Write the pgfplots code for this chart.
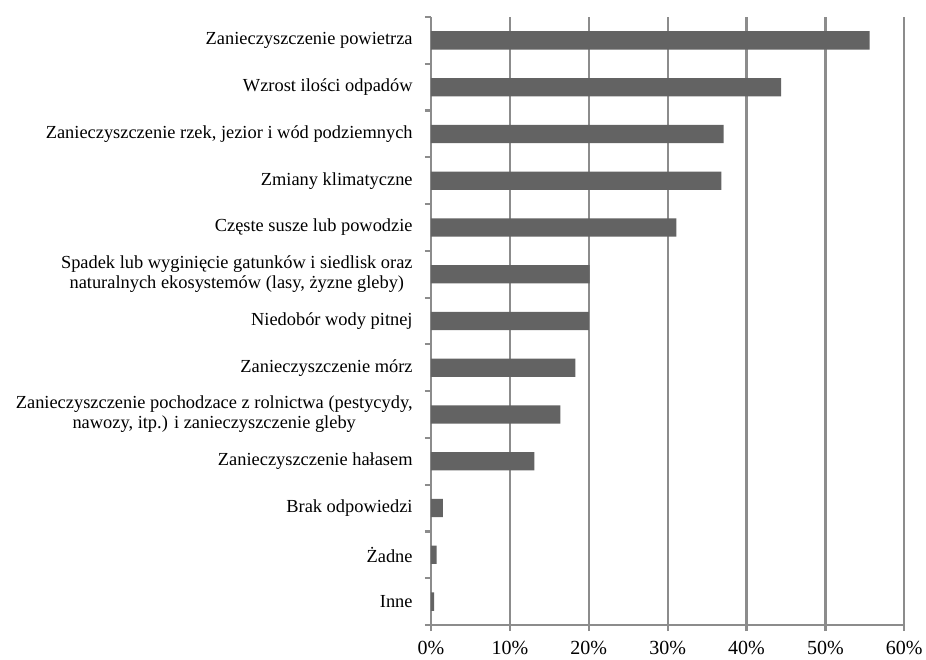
\documentclass[border=0pt]{standalone}
\usepackage{pgfplots}
\pgfplotsset{compat=1.18}
\usepackage{fontspec}
\setmainfont{Liberation Serif}
\definecolor{barc}{HTML}{636363}
\definecolor{gridc}{HTML}{8C8C8C}
\begin{document}
\fontsize{9.2}{10}\selectfont
\begin{tikzpicture}
\begin{axis}[
  scale only axis, width=236.65pt, height=304pt,
  xbar, bar width=9.15pt,
  xmin=0, xmax=60, ymin=-0.5, ymax=12.5,
  axis lines*=left,
  axis line style={gridc, line width=1.1pt},
  xtick={0,10,20,30,40,50,60},
  xticklabels={0\%,10\%,20\%,30\%,40\%,50\%,60\%},
  xmajorgrids, grid style={gridc, line width=1.1pt},
  tick align=outside,
  major tick length=3pt, minor tick length=3pt,
  tick style={gridc, line width=1.1pt},
  every major y tick/.append style={draw=none},
  ytick={0,1,2,3,4,5,6,7,8,9,10,11,12},
  minor ytick={-0.5,0.5,...,12.5},
  yticklabels={Inne, Żadne, Brak odpowiedzi, Zanieczyszczenie hałasem,
    {Zanieczyszczenie pochodzace z rolnictwa (pestycydy,\\ nawozy, itp.) i zanieczyszczenie gleby},
    Zanieczyszczenie mórz, Niedobór wody pitnej,
    {Spadek lub wyginięcie gatunków i siedlisk oraz\\ naturalnych ekosystemów (lasy, żyzne gleby)},
    Częste susze lub powodzie, Zmiany klimatyczne,
    {Zanieczyszczenie rzek, jezior i wód podziemnych},
    Wzrost ilości odpadów, Zanieczyszczenie powietrza},
  yticklabel style={align=center, font=\fontsize{9.2}{10}\selectfont, inner sep=0pt, xshift=-6pt},
  xticklabel style={font=\fontsize{10}{11}\selectfont, yshift=-2pt},
]
\addplot[fill=barc, draw=none] coordinates {
  (0.4,0) (0.7,1) (1.5,2) (13.1,3) (16.4,4) (18.3,5) (20.0,6)
  (20.1,7) (31.1,8) (36.8,9) (37.1,10) (44.4,11) (55.6,12)
};
\end{axis}
\pgfresetboundingbox
\path ([xshift=-215.5pt,yshift=-17pt]current axis.south west) rectangle ([xshift=247.5pt,yshift=8.5pt]current axis.north west);
\end{tikzpicture}
\end{document}
